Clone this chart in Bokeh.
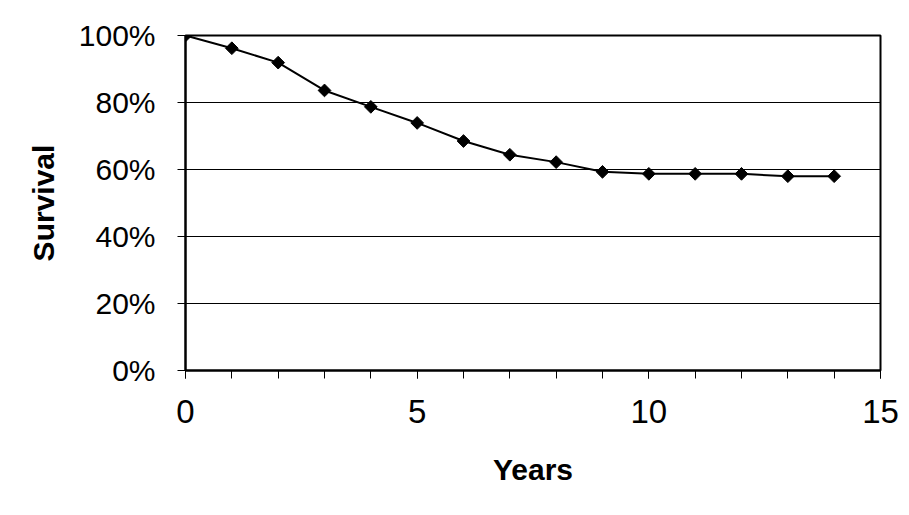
import math
from bokeh.plotting import figure
from bokeh.models import Range1d, FixedTicker, NumeralTickFormatter
from bokeh.embed import file_html
from bokeh.resources import INLINE

years = [0, 1, 2, 3, 4, 5, 6, 7, 8, 9, 10, 11, 12, 13, 14]
survival = [1.000, 0.962, 0.919, 0.836, 0.787, 0.739, 0.685, 0.644, 0.622,
            0.593, 0.587, 0.587, 0.587, 0.580, 0.580]
x_ticks = [0, 5, 10, 15]
y_ticks = [0, 0.2, 0.4, 0.6, 0.8, 1.0]

p = figure(width=901, height=507, output_backend="svg", toolbar_location=None,
           x_range=Range1d(0, 15), y_range=Range1d(0, 1),
           min_border_left=185, min_border_right=21, min_border_top=35,
           min_border_bottom=137)
p.background_fill_color = "white"
p.border_fill_color = "white"
p.outline_line_color = "black"
p.outline_line_width = 2

p.xgrid.visible = False
p.ygrid.ticker = FixedTicker(ticks=y_ticks)
p.ygrid.grid_line_color = "black"
p.ygrid.grid_line_width = 1

xa = p.xaxis[0]
xa.ticker = FixedTicker(ticks=x_ticks, minor_ticks=years + [15])
xa.axis_line_color = "black"
xa.axis_line_width = 2
xa.major_tick_out = 8
xa.major_tick_in = 0
xa.minor_tick_out = 8
xa.minor_tick_in = 0
xa.major_tick_line_color = "black"
xa.minor_tick_line_color = "black"
xa.major_label_text_font = "Liberation Sans"
xa.major_label_text_font_size = "33px"
xa.major_label_text_color = "black"
xa.major_label_standoff = 21
xa.axis_label = "Years"
xa.axis_label_text_font = "Liberation Sans"
xa.axis_label_text_font_style = "bold"
xa.axis_label_text_font_size = "30px"
xa.axis_label_text_color = "black"
xa.axis_label_standoff = 27

ya = p.yaxis[0]
ya.ticker = FixedTicker(ticks=y_ticks)
ya.formatter = NumeralTickFormatter(format="0%")
ya.axis_line_color = "black"
ya.axis_line_width = 2
ya.major_tick_out = 8
ya.major_tick_in = 0
ya.minor_tick_line_color = None
ya.major_tick_line_color = "black"
ya.major_label_text_font = "Liberation Sans"
ya.major_label_text_font_size = "30px"
ya.major_label_text_color = "black"
ya.major_label_standoff = 22
ya.axis_label = "Survival"
ya.axis_label_text_font = "Liberation Sans"
ya.axis_label_text_font_style = "bold"
ya.axis_label_text_font_size = "30px"
ya.axis_label_text_color = "black"
ya.axis_label_standoff = 16

p.line(years, survival, line_color="black", line_width=2)
p.scatter(years, survival, marker="square", size=9, angle=math.pi / 4,
          fill_color="black", line_color="black")

open("out.html", "w").write(file_html(p, INLINE))
